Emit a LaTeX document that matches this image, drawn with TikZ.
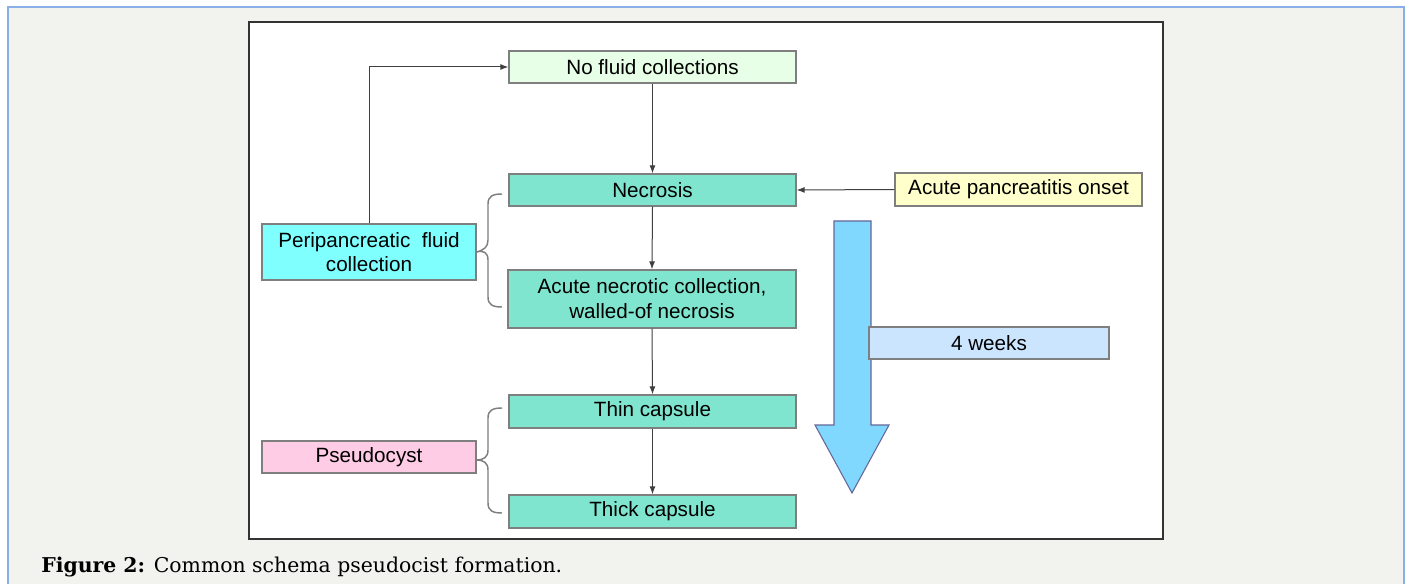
\documentclass[tikz,border=0pt]{standalone}
\usepackage{fontspec}
\setmainfont{Liberation Sans}
\newfontfamily\capfont{DejaVu Serif}
\usetikzlibrary{arrows.meta}
\definecolor{panelbg}{HTML}{F2F2EE}
\definecolor{panelline}{HTML}{8AAEE6}
\definecolor{boxgray}{HTML}{7F7F7F}
\definecolor{cpale}{HTML}{E6FFE6}
\definecolor{cteal}{HTML}{80E5CF}
\definecolor{cyell}{HTML}{FFFFCC}
\definecolor{ccyan}{HTML}{80FFFF}
\definecolor{cblue}{HTML}{CCE5FF}
\definecolor{cpink}{HTML}{FFCCE6}
\definecolor{carrow}{HTML}{80D8FF}
\definecolor{linegray}{HTML}{404040}
\begin{document}
\begin{tikzpicture}[x=0.75pt,y=-0.75pt,
  box/.style={draw=boxgray, line width=1pt, inner sep=0pt, align=center,
    font=\fontsize{15.5}{18}\selectfont},
  conn/.style={draw=linegray, line width=0.75pt, -{Latex[length=6pt,width=4.5pt]}},
  brace/.style={draw=boxgray, line width=1.1pt}]
\useasboundingbox (0,0) rectangle (1406,584);
\clip (0,0) rectangle (1406,584);
\fill[white] (0,0) rectangle (1406,584);
\draw[draw=panelline, fill=panelbg, line width=1.1pt] (8,7) rectangle (1404,620);
\draw[draw=black!80, fill=white, line width=1pt] (249,22) rectangle (1163,539);

% big arrow
\draw[draw=boxgray!80!blue, fill=carrow, line width=0.8pt]
  (834,221) -- (871,221) -- (871,425) -- (889,425) -- (852,493) -- (815,425) -- (834,425) -- cycle;

\node[box, fill=cpale, minimum width={287*0.75pt}, minimum height={32*0.75pt}] (nofluid) at (652.5,67) {No fluid collections};
\node[box, fill=cteal, minimum width={287*0.75pt}, minimum height={32*0.75pt}] (necrosis) at (652.5,190) {Necrosis};
\node[box, fill=cyell, minimum width={247*0.75pt}, minimum height={33*0.75pt}] (onset) at (1018.5,189.5) {Acute pancreatitis onset};
\node[box, fill=ccyan, minimum width={214*0.75pt}, minimum height={56*0.75pt}] (peri) at (369,252) {Peripancreatic\ \ fluid\\collection};
\node[box, fill=cteal, minimum width={288*0.75pt}, minimum height={58*0.75pt}, font=\fontsize{15.5}{18.8}\selectfont] (anc) at (652,299) {Acute necrotic collection,\\walled-of necrosis};
\node[box, fill=cblue, minimum width={240*0.75pt}, minimum height={32*0.75pt}] (weeks) at (989,343) {4 weeks};
\node[box, fill=cteal, minimum width={287*0.75pt}, minimum height={33*0.75pt}] (thin) at (652.5,411.5) {Thin capsule};
\node[box, fill=cpink, minimum width={214*0.75pt}, minimum height={32*0.75pt}] (pseudo) at (369,457) {Pseudocyst};
\node[box, fill=cteal, minimum width={287*0.75pt}, minimum height={33*0.75pt}] (thick) at (652.5,511.5) {Thick capsule};

% connectors
\draw[conn] (peri.north) |- (nofluid.west);
\draw[conn] (nofluid.south) -- (necrosis.north);
\draw[conn] (onset.west) -- (necrosis.east);
\draw[conn] (necrosis.south) -- (anc.north);
\draw[conn] (anc.south) -- (thin.north);
\draw[conn] (thin.south) -- (thick.north);

% braces
\draw[brace] (502,194) .. controls (493,194) and (488,196) .. (488,204) -- (488,240)
  .. controls (488,247) and (484,250) .. (peri.east)
  .. controls (484,250) and (488,253) .. (488,260) -- (488,297)
  .. controls (488,305) and (493,307) .. (502,307);
\draw[brace] (502,408) .. controls (493,408) and (488,410) .. (488,418) -- (488,450)
  .. controls (488,457) and (484,460) .. (476,460)
  .. controls (484,460) and (488,463) .. (488,470) -- (488,503)
  .. controls (488,511) and (493,513) .. (502,513);

\node[anchor=west, inner sep=0pt, font=\capfont\fontsize{15.3}{18}\selectfont] (cap) at (41,567)
  {\textbf{Figure 2:} Common schema pseudocist formation.};
\end{tikzpicture}
\end{document}
